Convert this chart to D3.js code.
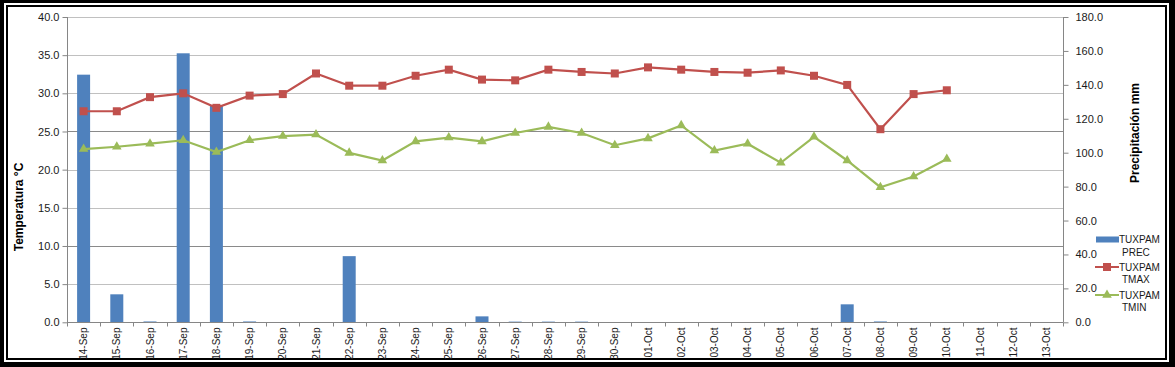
<!DOCTYPE html>
<html><head><meta charset="utf-8">
<script src="https://cdn.jsdelivr.net/npm/d3@7"></script>
<style>
html,body{margin:0;padding:0;background:#000;}
svg{display:block;}
text{font-family:"Liberation Sans",Arial,sans-serif;}
</style></head>
<body>
<script>
const categories = ["14-Sep","15-Sep","16-Sep","17-Sep","18-Sep","19-Sep","20-Sep","21-Sep","22-Sep","23-Sep","24-Sep","25-Sep","26-Sep","27-Sep","28-Sep","29-Sep","30-Sep","01-Oct","02-Oct","03-Oct","04-Oct","05-Oct","06-Oct","07-Oct","08-Oct","09-Oct","10-Oct","11-Oct","12-Oct","13-Oct"];
const prec = [146,16.5,0.5,158.6,128,0.5,0,0,39,0,0,0,3.5,0.4,0.4,0.4,0,0,0,0,0,0,0,10.6,0.5,0,0,0,0,0];
const tmax = [27.65,27.65,29.5,30.0,28.1,29.7,29.9,32.6,31.0,31.0,32.3,33.1,31.8,31.7,33.1,32.8,32.6,33.4,33.1,32.8,32.7,33.0,32.3,31.1,25.3,29.9,30.4,null,null,null];
const tmin = [22.7,23.0,23.4,23.85,22.3,23.85,24.4,24.6,22.2,21.2,23.7,24.2,23.7,24.8,25.6,24.8,23.2,24.1,25.8,22.5,23.4,20.9,24.3,21.2,17.7,19.1,21.4,null,null,null];
const leftTicks = [0,5,10,15,20,25,30,35,40];
const rightTicks = [0,20,40,60,80,100,120,140,160,180];
const legendItems = [
  {name:["TUXPAM","PREC"], type:"bar"},
  {name:["TUXPAM","TMAX"], type:"square"},
  {name:["TUXPAM","TMIN"], type:"triangle"}
];

const W=1175,H=367;
const C={prec:"#4f81bd",tmax:"#c0504d",tmin:"#9bbb59",axis:"#868686",grid:"#c0c0c0",gridDark:"#8a8a8a",text:"#1a1a1a"};
const svg=d3.select("body").append("svg").attr("width",W).attr("height",H);
svg.append("rect").attr("width",W).attr("height",H).attr("fill","#000");
svg.append("rect").attr("x",4).attr("y",3).attr("width",1165).attr("height",359).attr("fill","#fff");
svg.append("rect").attr("x",7).attr("y",6).attr("width",1159).attr("height",353).attr("fill","#fff").attr("stroke","#000").attr("stroke-width",2);

const L=67,R=1063,T=17,B=322.3;
const x=d3.scaleBand().domain(categories).range([L,R]);
const yL=d3.scaleLinear().domain([0,40]).range([B,T]);
const yR=d3.scaleLinear().domain([0,180]).range([B,T]);

// gridlines
svg.append("g").selectAll("line").data(leftTicks.filter(d=>d>0)).join("line")
  .attr("x1",L).attr("x2",R).attr("y1",d=>Math.round(yL(d))+0.5).attr("y2",d=>Math.round(yL(d))+0.5)
  .attr("stroke",d=>(d===25||d===10)?C.gridDark:C.grid).attr("stroke-width",1);

// bars
const bw=13;
svg.append("g").selectAll("rect").data(categories.map((c,i)=>({c,v:prec[i]})).filter(d=>d.v>0)).join("rect")
  .attr("x",d=>x(d.c)+x.bandwidth()/2-bw/2).attr("width",bw)
  .attr("y",d=>yR(d.v)).attr("height",d=>Math.max(B-yR(d.v),1))
  .attr("fill",C.prec);

// axes
const axL=svg.append("g").attr("transform",`translate(${L+0.5},0)`)
  .call(d3.axisLeft(yL).tickValues(leftTicks).tickFormat(d3.format(".1f")).tickSize(5).tickPadding(3));
const axR=svg.append("g").attr("transform",`translate(${R+0.5},0)`)
  .call(d3.axisRight(yR).tickValues(rightTicks).tickFormat(d3.format(".1f")).tickSize(5).tickPadding(7));
const axB=svg.append("g").attr("transform",`translate(0,${Math.round(B)+0.5})`)
  .call(d3.axisBottom(x).tickSize(0).tickPadding(0));
[axL,axR,axB].forEach(g=>{
  g.select(".domain").attr("stroke",C.axis);
  g.selectAll(".tick line").attr("stroke",C.axis);
  g.selectAll("text").attr("fill",C.text).style("font-size","11px").style("font-family","'Liberation Sans',Arial,sans-serif");
});
axL.select(".domain").attr("d",`M0,${T}V${Math.round(B)+0.5}`);
axR.select(".domain").attr("d",`M0,${T}V${Math.round(B)+0.5}`);
axB.select(".domain").attr("d",`M${L},0H${R}`);
// bottom boundary ticks
axB.append("g").selectAll("line").data(d3.range(categories.length+1)).join("line")
  .attr("x1",i=>Math.round(L+i*x.bandwidth())+0.5).attr("x2",i=>Math.round(L+i*x.bandwidth())+0.5)
  .attr("y1",0).attr("y2",4).attr("stroke",C.axis);
axB.selectAll(".tick text")
  .attr("transform","rotate(-90)").attr("text-anchor","end").attr("dy","0.35em")
  .attr("x",-5).attr("y",0).style("font-size","10px");

// lines
const line=d3.line().defined(d=>d.v!=null).x(d=>x(d.c)+x.bandwidth()/2);
const tmaxD=categories.map((c,i)=>({c,v:tmax[i]}));
const tminD=categories.map((c,i)=>({c,v:tmin[i]}));
svg.append("path").datum(tmaxD).attr("fill","none").attr("stroke",C.tmax).attr("stroke-width",2.2)
  .attr("d",line.y(d=>yL(d.v)));
svg.append("path").datum(tminD).attr("fill","none").attr("stroke",C.tmin).attr("stroke-width",2.2)
  .attr("d",line.y(d=>yL(d.v)));
svg.append("g").selectAll("rect").data(tmaxD.filter(d=>d.v!=null)).join("rect")
  .attr("x",d=>x(d.c)+x.bandwidth()/2-4).attr("y",d=>yL(d.v)-4).attr("width",8).attr("height",8).attr("fill",C.tmax);
const tri=d3.symbol().type(d3.symbolTriangle).size(40);
svg.append("g").selectAll("path").data(tminD.filter(d=>d.v!=null)).join("path")
  .attr("transform",d=>`translate(${x(d.c)+x.bandwidth()/2},${yL(d.v)})`).attr("d",tri).attr("fill",C.tmin);

// axis titles
svg.append("text").attr("transform",`translate(23,207) rotate(-90)`).attr("text-anchor","middle")
  .style("font-size","12px").style("font-weight","bold").attr("fill","#000").text("Temperatura °C");
svg.append("text").attr("transform",`translate(1139,133) rotate(-90)`).attr("text-anchor","middle")
  .style("font-size","12px").style("font-weight","bold").attr("fill","#000").text("Precipitación mm");

// legend
const lg=svg.append("g");
const ly=[239.5,267,295];
legendItems.forEach((it,i)=>{
  const g=lg.append("g").attr("transform",`translate(0,${ly[i]})`);
  if(it.type==="bar"){
    g.append("rect").attr("x",1096).attr("y",-3).attr("width",23).attr("height",6).attr("fill",C.prec);
  } else {
    const col=it.type==="square"?C.tmax:C.tmin;
    g.append("line").attr("x1",1095).attr("x2",1119).attr("y1",0).attr("y2",0).attr("stroke",col).attr("stroke-width",2);
    if(it.type==="square") g.append("rect").attr("x",1103).attr("y",-4).attr("width",8).attr("height",8).attr("fill",col);
    else g.append("path").attr("transform","translate(1107,0)").attr("d",tri).attr("fill",col);
  }
  g.append("text").attr("x",1119).attr("y",0).attr("dy","0.35em").style("font-size","10px").attr("fill",C.text).text(it.name[0]);
  g.append("text").attr("x",1122).attr("y",12.5).attr("dy","0.35em").style("font-size","10px").attr("fill",C.text).text(it.name[1]);
});
</script>
</body></html>
